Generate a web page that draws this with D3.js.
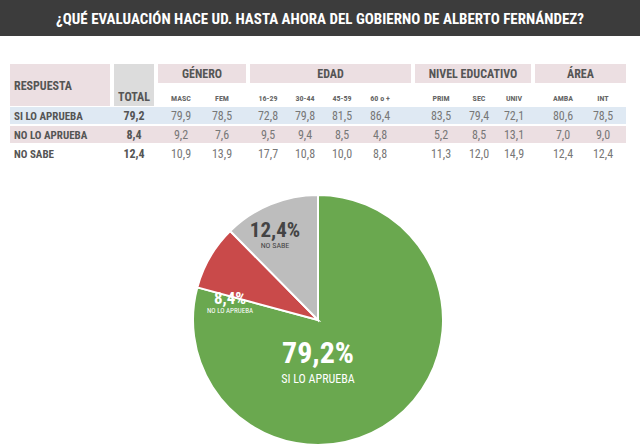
<!DOCTYPE html>
<html><head><meta charset="utf-8">
<script src="https://cdn.jsdelivr.net/npm/d3@7"></script>
<style>body{margin:0;background:#fff}svg{font-family:"Roboto Condensed","Liberation Sans Narrow",Roboto,sans-serif}</style>
</head><body><svg width="640" height="445"></svg>
<script>
var title = "¿QUÉ EVALUACIÓN HACE UD. HASTA AHORA DEL GOBIERNO DE ALBERTO FERNÁNDEZ?";
var groups = [["GÉNERO", 2], ["EDAD", 4], ["NIVEL EDUCATIVO", 3], ["ÁREA", 2]];
var columns = ["MASC", "FEM", "16-29", "30-44", "45-59", "60 o +", "PRIM", "SEC", "UNIV", "AMBA", "INT"];
var answers = ["SI LO APRUEBA", "NO LO APRUEBA", "NO SABE"];
var totals = [79.2, 8.4, 12.4];
var values = [
  [79.9, 78.5, 72.8, 79.8, 81.5, 86.4, 83.5, 79.4, 72.1, 80.6, 78.5],
  [9.2, 7.6, 9.5, 9.4, 8.5, 4.8, 5.2, 8.5, 13.1, 7.0, 9.0],
  [10.9, 13.9, 17.7, 10.8, 10.0, 8.8, 11.3, 12.0, 14.9, 12.4, 12.4]
];
var colors = ["#6aa84f", "#c94a4a", "#bdbdbd"];
var fmt = v => v.toFixed(1).replace(".", ",");

var svg = d3.select("svg");
svg.append("rect").attr("width", 640).attr("height", 36).attr("fill", "#3c3c3c");
svg.append("text").attr("x", 320).attr("y", 24).attr("text-anchor", "middle")
  .attr("fill", "#fff").attr("font-size", 15).attr("font-weight", "bold").text(title);

// column positions
var colX = [181, 222, 268, 305, 342, 380, 441, 479, 514, 563, 603];
var groupSpans = [[158, 246], [250, 411], [415, 531], [535, 626]];
var rowY = [116, 135, 154];
var rowFill = ["#dfe9f3", "#ecdfe2", "#fff"];

svg.append("rect").attr("x", 10).attr("y", 64).attr("width", 100).attr("height", 42).attr("fill", "#ecdfe2");
svg.append("rect").attr("x", 114).attr("y", 64).attr("width", 40).attr("height", 42).attr("fill", "#dcdcdc");
svg.append("text").attr("x", 14).attr("y", 90).attr("font-size", 12).attr("font-weight", "bold").attr("fill", "#555").text("RESPUESTA");
svg.append("text").attr("x", 134).attr("y", 101).attr("text-anchor", "middle").attr("font-size", 12).attr("font-weight", "bold").attr("fill", "#555").text("TOTAL");

groups.forEach(function(g, i) {
  var s = groupSpans[i];
  svg.append("rect").attr("x", s[0]).attr("y", 64).attr("width", s[1] - s[0]).attr("height", 19).attr("fill", "#ecdfe2");
  svg.append("text").attr("x", (s[0] + s[1]) / 2).attr("y", 78).attr("text-anchor", "middle")
    .attr("font-size", 12).attr("font-weight", "bold").attr("fill", "#555").text(g[0]);
});
columns.forEach(function(c, i) {
  svg.append("text").attr("x", colX[i]).attr("y", 101).attr("text-anchor", "middle")
    .attr("font-size", 8).attr("font-weight", "bold").attr("fill", "#666").text(c);
});
answers.forEach(function(a, r) {
  svg.append("rect").attr("x", 10).attr("y", rowY[r] - 9).attr("width", 616).attr("height", 17).attr("fill", rowFill[r]);
  svg.append("text").attr("x", 14).attr("y", rowY[r] + 4).attr("font-size", 11).attr("font-weight", "bold").attr("fill", "#555").text(a);
  svg.append("text").attr("x", 134).attr("y", rowY[r] + 4).attr("text-anchor", "middle").attr("font-size", 12).attr("font-weight", "bold").attr("fill", "#555").text(fmt(totals[r]));
  values[r].forEach(function(v, i) {
    svg.append("text").attr("x", colX[i]).attr("y", rowY[r] + 4).attr("text-anchor", "middle")
      .attr("font-size", 12).attr("fill", "#777").text(fmt(v));
  });
});

// pie
var cx = 318, cy = 320, R = 125;
var pie = d3.pie().sort(null)(totals);
var arc = d3.arc().innerRadius(0).outerRadius(R);
var pg = svg.append("g").attr("transform", `translate(${cx},${cy})`);
pg.selectAll("path").data(pie).enter().append("path")
  .attr("d", arc).attr("fill", (d, i) => colors[i]).attr("stroke", "#fff").attr("stroke-width", 2);

var labels = [
  {dx: 0, dy: 43, big: 30, small: 12, gap: 20},
  {dx: -88, dy: -16, big: 17, small: 7, gap: 9},
  {dx: -43, dy: -83, big: 21, small: 8, gap: 11}
];
labels.forEach(function(l, i) {
  var fill = i === 2 ? "#444" : "#fff";
  pg.append("text").attr("x", l.dx).attr("y", l.dy).attr("text-anchor", "middle")
    .attr("font-size", l.big).attr("font-weight", "bold").attr("fill", fill).text(fmt(totals[i]) + "%");
  pg.append("text").attr("x", l.dx).attr("y", l.dy + l.gap).attr("text-anchor", "middle")
    .attr("font-size", l.small).attr("fill", fill).text(answers[i]);
});
</script></body></html>
